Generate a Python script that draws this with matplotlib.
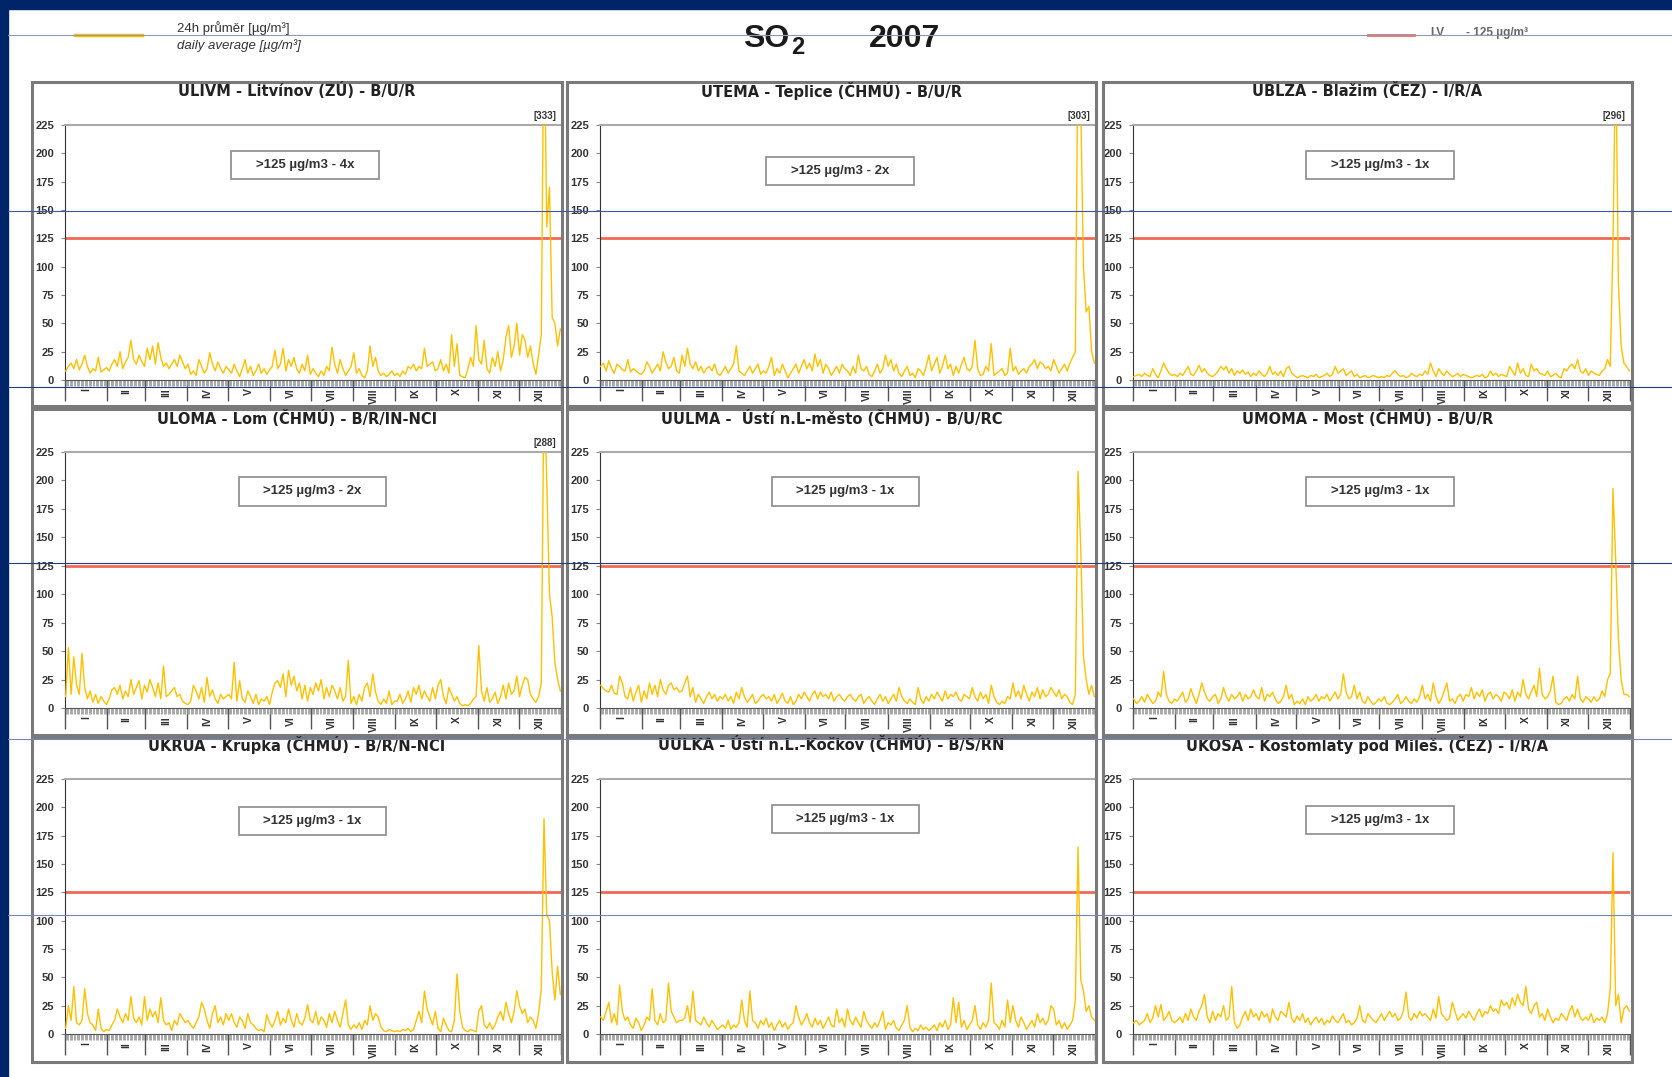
import matplotlib.pyplot as plt
from matplotlib.patches import Rectangle
from matplotlib.lines import Line2D
import numpy as np

plt.rcParams['font.family'] = ['Liberation Sans', 'DejaVu Sans']

# SO2 daily averages 2007 [ug/m3], one value per two days (I .. XII)
ulivm = [8, 12, 15, 10, 18, 9, 14, 22, 12, 6, 10, 8, 20, 7, 9, 11,
         8, 14, 18, 12, 25, 10, 16, 20, 35, 18, 14, 22, 16, 12,
         28, 18, 30, 14, 33, 20, 12, 15, 10, 14, 18, 12, 22, 16, 10,
         14, 5, 8, 4, 18, 12, 6, 10, 24, 14, 8, 16, 10, 6, 12,
         9, 6, 14, 8, 3, 10, 18, 6, 12, 4, 8, 14, 6, 10, 5, 9,
         12, 26, 10, 14, 28, 8, 18, 12, 20, 10, 6, 14, 8, 22, 5,
         10, 6, 3, 8, 4, 12, 8, 29, 14, 6, 18, 10, 4, 8, 12,
         24, 6, 10, 4, 2, 8, 30, 12, 20, 8, 4, 6, 3, 5, 8, 4,
         6, 3, 8, 5, 12, 10, 14, 8, 12, 10, 28, 12, 14, 16, 8,
         10, 18, 8, 14, 6, 40, 12, 32, 4, 3, 2, 10, 20, 12, 48,
         18, 14, 35, 10, 6, 20, 12, 25, 8, 18, 38, 48, 20, 30, 50,
         22, 40, 35, 20, 30, 15, 5, 22, 40, 333, 135, 170, 55, 50, 30, 45]

utema = [12, 15, 8, 17, 10, 6, 14, 12, 9, 8, 18, 7, 10, 8, 6, 5,
         8, 16, 12, 6, 10, 14, 8, 25, 16, 10, 12, 20, 8, 6,
         22, 12, 28, 14, 10, 16, 8, 12, 6, 10, 12, 8, 14, 6, 4,
         8, 12, 6, 10, 14, 30, 8, 6, 4, 8, 12, 6, 10, 14, 5,
         8, 6, 12, 20, 4, 10, 6, 14, 8, 2, 6, 10, 14, 6, 12, 18,
         10, 15, 8, 23, 12, 18, 6, 14, 10, 4, 8, 12, 6, 14, 10,
         8, 4, 12, 6, 22, 10, 8, 12, 5, 3, 8, 14, 6, 10, 22,
         12, 18, 8, 14, 6, 3, 8, 12, 4, 6, 2, 10, 8, 4, 12, 22,
         8, 14, 20, 6, 12, 22, 10, 14, 4, 12, 6, 14, 20, 10, 8,
         12, 35, 10, 4, 5, 12, 8, 32, 4, 6, 8, 10, 4, 6, 28,
         8, 12, 5, 8, 10, 6, 12, 14, 18, 10, 16, 14, 10, 12, 8,
         18, 12, 6, 10, 14, 8, 15, 20, 25, 303, 240, 100, 60, 65, 25, 15]

ublza = [3, 4, 5, 3, 6, 4, 3, 10, 5, 2, 8, 15, 10, 6, 4, 5,
         3, 6, 4, 8, 12, 5, 4, 8, 13, 7, 10, 6, 4, 3,
         5, 8, 12, 9, 12, 6, 10, 4, 8, 6, 9, 5, 7, 3, 6,
         4, 8, 5, 3, 6, 12, 5, 7, 4, 8, 3, 10, 12, 6, 4,
         2, 3, 4, 3, 2, 4, 3, 5, 2, 3, 4, 6, 3, 5, 12, 6,
         8, 10, 4, 6, 8, 3, 5, 2, 3, 4, 2, 3, 4, 3, 2,
         3, 2, 4, 3, 6, 8, 5, 3, 4, 2, 3, 6, 4, 3, 5,
         4, 8, 5, 15, 8, 3, 10, 6, 4, 8, 5, 3, 4, 6, 3, 5,
         4, 3, 2, 3, 4, 3, 5, 2, 3, 8, 4, 6, 3, 5, 4,
         3, 12, 8, 4, 15, 6, 10, 4, 3, 14, 8, 10, 6, 5, 4,
         8, 3, 4, 6, 3, 2, 10, 8, 12, 14, 10, 18, 8, 6, 10,
         4, 8, 6, 5, 4, 8, 10, 18, 12, 120, 296, 85, 30, 15, 12, 8]

uloma = [10, 53, 12, 45, 20, 12, 48, 18, 8, 15, 5, 12, 4, 10, 6, 3,
         8, 16, 18, 12, 20, 8, 15, 10, 25, 12, 18, 24, 8, 20,
         14, 25, 18, 10, 22, 8, 37, 10, 12, 15, 18, 10, 12, 6, 4,
         3, 6, 20, 15, 8, 18, 5, 27, 10, 16, 8, 4, 12, 8, 10,
         12, 8, 40, 6, 24, 8, 5, 15, 10, 4, 12, 3, 8, 6, 10, 3,
         14, 22, 24, 18, 30, 10, 33, 20, 28, 15, 22, 8, 20, 6, 18,
         12, 22, 15, 25, 8, 18, 10, 20, 15, 8, 18, 6, 10, 42, 4,
         10, 3, 12, 6, 18, 22, 10, 30, 14, 6, 3, 8, 4, 15, 3, 6,
         6, 12, 4, 8, 15, 5, 18, 12, 20, 8, 15, 10, 6, 18, 8,
         20, 25, 10, 4, 18, 12, 6, 10, 4, 2, 3, 2, 4, 8, 10,
         55, 15, 6, 18, 5, 8, 14, 4, 10, 20, 8, 22, 12, 15, 28,
         10, 20, 27, 25, 12, 8, 5, 10, 22, 288, 200, 100, 80, 40, 25, 15]

uulma = [20, 17, 15, 14, 20, 13, 12, 28, 22, 10, 8, 18, 6, 14, 20, 5,
         15, 8, 22, 12, 20, 10, 25, 16, 12, 20, 22, 16, 18, 14,
         15, 22, 28, 10, 18, 5, 12, 8, 4, 10, 14, 8, 12, 6, 10,
         8, 12, 6, 10, 4, 14, 8, 18, 10, 5, 8, 12, 4, 6, 10,
         12, 8, 10, 6, 12, 4, 8, 13, 6, 4, 10, 3, 6, 12, 8, 14,
         10, 6, 12, 15, 8, 14, 10, 12, 8, 14, 6, 10, 12, 8, 6,
         10, 12, 8, 6, 10, 12, 4, 8, 10, 6, 3, 8, 12, 6, 10,
         4, 8, 12, 6, 18, 10, 6, 4, 8, 5, 3, 18, 8, 4, 10, 6,
         12, 8, 14, 10, 6, 15, 8, 12, 10, 14, 8, 6, 12, 10, 8,
         18, 10, 6, 14, 8, 12, 4, 20, 10, 5, 3, 6, 4, 10, 8,
         22, 10, 15, 8, 20, 12, 6, 14, 10, 18, 8, 16, 10, 12, 18,
         14, 10, 16, 8, 12, 10, 5, 3, 12, 208, 140, 45, 25, 12, 20, 10]

umoma = [8, 4, 6, 10, 5, 12, 8, 4, 6, 14, 10, 32, 12, 6, 4, 8,
         6, 10, 14, 5, 8, 17, 10, 4, 12, 22, 14, 8, 6, 10,
         12, 4, 8, 18, 10, 6, 12, 8, 10, 14, 6, 12, 8, 10, 16,
         10, 8, 18, 6, 12, 10, 14, 8, 4, 6, 10, 20, 8, 12, 3,
         6, 4, 8, 3, 10, 6, 8, 12, 6, 10, 8, 12, 6, 10, 14, 8,
         12, 30, 14, 8, 10, 20, 8, 14, 6, 4, 10, 6, 3, 5, 8,
         6, 10, 4, 3, 5, 8, 12, 4, 6, 10, 6, 4, 8, 5, 10,
         20, 8, 12, 6, 22, 10, 4, 8, 15, 22, 6, 8, 4, 10, 12, 6,
         12, 10, 18, 8, 14, 10, 16, 6, 12, 14, 8, 12, 10, 6, 14,
         12, 8, 16, 6, 14, 10, 25, 12, 8, 14, 20, 10, 35, 12, 8,
         10, 15, 28, 5, 3, 4, 8, 10, 6, 12, 8, 28, 8, 5, 10,
         8, 5, 10, 6, 8, 15, 10, 25, 30, 193, 130, 60, 25, 12, 12, 10]

ukrua = [5, 25, 12, 42, 10, 8, 12, 40, 18, 10, 8, 3, 22, 5, 2, 4,
         3, 8, 12, 22, 15, 10, 18, 12, 33, 14, 10, 15, 8, 33,
         12, 22, 15, 20, 10, 32, 12, 8, 10, 3, 12, 8, 18, 14, 10,
         12, 8, 5, 10, 15, 28, 22, 12, 5, 18, 25, 10, 15, 8, 18,
         12, 18, 10, 6, 15, 12, 5, 18, 10, 8, 5, 3, 4, 2, 17, 10,
         6, 12, 20, 8, 14, 10, 22, 12, 6, 18, 10, 8, 14, 26, 12,
         10, 20, 8, 15, 12, 6, 18, 10, 20, 12, 6, 18, 30, 8, 4,
         8, 5, 10, 4, 12, 8, 25, 12, 18, 15, 6, 3, 2, 4, 3, 2,
         3, 2, 4, 3, 5, 2, 4, 12, 20, 10, 38, 22, 15, 8, 20,
         5, 2, 14, 8, 3, 2, 12, 53, 20, 6, 3, 2, 4, 3, 2,
         20, 25, 8, 5, 10, 4, 8, 15, 20, 12, 28, 18, 10, 20, 38,
         25, 18, 22, 10, 15, 12, 5, 18, 40, 190, 105, 100, 55, 30, 60, 35]

uulka = [15, 12, 20, 28, 10, 18, 8, 43, 20, 12, 15, 8, 5, 14, 10, 3,
         8, 15, 12, 40, 12, 8, 18, 10, 12, 45, 20, 15, 10, 12,
         12, 14, 25, 10, 38, 12, 10, 8, 15, 10, 6, 12, 8, 4, 6,
         8, 5, 12, 4, 8, 6, 10, 30, 12, 6, 38, 12, 10, 5, 12,
         8, 14, 6, 10, 3, 8, 12, 6, 10, 4, 8, 10, 25, 15, 8, 12,
         18, 10, 6, 14, 8, 12, 5, 10, 15, 8, 6, 22, 10, 14, 6,
         22, 12, 8, 15, 10, 6, 20, 12, 8, 5, 10, 6, 12, 20, 4,
         10, 8, 12, 5, 3, 8, 12, 25, 6, 2, 5, 3, 8, 4, 6, 3,
         5, 8, 3, 10, 6, 12, 4, 8, 32, 10, 28, 6, 12, 4, 8,
         12, 25, 8, 4, 10, 6, 12, 45, 10, 8, 4, 12, 6, 30, 10,
         25, 12, 6, 15, 10, 4, 8, 12, 6, 18, 10, 14, 8, 12, 25,
         22, 8, 12, 5, 10, 4, 8, 12, 30, 165, 48, 38, 20, 25, 15, 12]

ukosa = [10, 12, 8, 10, 12, 18, 10, 14, 25, 15, 26, 12, 15, 20, 12, 10,
         12, 15, 10, 18, 12, 22, 15, 12, 20, 25, 35, 15, 10, 20,
         12, 18, 15, 25, 12, 15, 42, 10, 5, 8, 15, 20, 12, 22, 15,
         18, 12, 20, 15, 18, 10, 22, 15, 12, 20, 18, 15, 28, 14, 10,
         16, 12, 18, 10, 14, 8, 12, 15, 10, 14, 8, 12, 10, 16, 12, 10,
         14, 18, 10, 12, 8, 10, 14, 25, 12, 10, 18, 15, 12, 10, 14,
         18, 12, 16, 20, 15, 18, 12, 14, 20, 37, 15, 12, 18, 14, 20,
         16, 18, 15, 12, 22, 14, 33, 18, 15, 12, 14, 28, 20, 12, 15, 18,
         14, 20, 16, 12, 18, 22, 15, 20, 18, 25, 20, 22, 18, 30, 25,
         28, 22, 32, 25, 35, 28, 25, 42, 22, 18, 25, 28, 15, 18, 12,
         22, 15, 10, 14, 12, 18, 15, 12, 20, 25, 15, 22, 14, 12, 15,
         12, 18, 10, 14, 12, 15, 10, 18, 40, 160, 25, 35, 10, 22, 25, 20]

series = [ulivm, utema, ublza, uloma, uulma, umoma, ukrua, uulka, ukosa]
stations = ["ULIVM - Litvínov (ZÚ) - B/U/R",
            "UTEMA - Teplice (ČHMÚ) - B/U/R",
            "UBLZA - Blažim (ČEZ) - I/R/A",
            "ULOMA - Lom (ČHMÚ) - B/R/IN-NCI",
            "UULMA -  Ústí n.L-město (ČHMÚ) - B/U/RC",
            "UMOMA - Most (ČHMÚ) - B/U/R",
            "UKRUA - Krupka (ČHMÚ) - B/R/N-NCI",
            "UULKA - Ústí n.L.-Kočkov (ČHMÚ) - B/S/RN",
            "UKOSA - Kostomlaty pod Mileš. (ČEZ) - I/R/A"]
exceed = [4, 2, 1, 2, 1, 1, 1, 1, 1]
months = ["I", "II", "III", "IV", "V", "VI", "VII", "VIII", "IX", "X", "XI", "XII"]
month_days = [31, 28, 31, 30, 31, 30, 31, 31, 30, 31, 30, 31]
limit = 125
ymax = 225

W, H = 1672, 1077
yellow = '#ffc000'
red = '#f06a55'

def fx(px):
    return px / W

def fy(py):
    return 1 - py / H

fig = plt.figure(figsize=(W / 100, H / 100), dpi=100)

# slide background: navy bars on top and left
fig.add_artist(Rectangle((0, fy(9)), 1, 9 / H, transform=fig.transFigure, color='#002468', zorder=0))
fig.add_artist(Rectangle((0, 0), fx(8), 1, transform=fig.transFigure, color='#002468', zorder=0))

# header
fig.text(fx(743), fy(47), "SO", fontsize=23, fontweight='bold', color='#1a1a1a', va='baseline')
fig.text(fx(791), fy(54), "2", fontsize=17, fontweight='bold', color='#1a1a1a', va='baseline')
fig.text(fx(869), fy(47), "2007", fontsize=23, fontweight='bold', color='#1a1a1a', va='baseline')

fig.add_artist(Line2D([fx(75), fx(142)], [fy(35), fy(35)], color=yellow, lw=2.5))
fig.text(fx(177), fy(28), "24h průměr [µg/m³]", fontsize=9.5, color='#333333', va='center')
fig.text(fx(177), fy(46), "daily average [µg/m³]", fontsize=9.5, color='#333333', va='center', style='italic')

fig.add_artist(Line2D([fx(1368), fx(1414)], [fy(35), fy(35)], color=red, lw=2))
fig.text(fx(1430), fy(33), "LV", fontsize=8.5, fontweight='bold', color='#666666', va='center')
fig.text(fx(1466), fy(33), "- 125 µg/m³", fontsize=8.5, fontweight='bold', color='#666666', va='center')

col_axis = [(65, 561), (600, 1095), (1133, 1630)]
row_axis = [(125, 380), (452, 708), (779, 1034)]
col_frame = [(32, 562), (567, 1096), (1103, 1632)]
row_frame = [(82, 406), (409, 735), (737, 1062)]
title_y = [91, 418, 745]
box_pos = [(0.484, 0.845), (0.485, 0.82), (0.497, 0.845),
           (0.499, 0.846), (0.496, 0.846), (0.497, 0.846),
           (0.499, 0.837), (0.496, 0.845), (0.497, 0.84)]

bounds = np.concatenate([[0.5], 0.5 + np.cumsum(month_days)])
centers = bounds[:-1] + np.array(month_days) / 2

for i, vals in enumerate(series):
    r, c = divmod(i, 3)
    x0, x1 = col_frame[c]
    y0, y1 = row_frame[r]
    fig.add_artist(Rectangle((fx(x0), fy(y1)), (x1 - x0) / W, (y1 - y0) / H,
                             transform=fig.transFigure, fill=False, ec='#7a7a7a', lw=2.2, zorder=1))
    fig.text(fx((x0 + x1) / 2), fy(title_y[r]), stations[i], fontsize=10.5, fontweight='bold',
             family='DejaVu Sans', color='#222222', ha='center', va='center')

    l, rr = col_axis[c]
    t, b = row_axis[r]
    ax = fig.add_axes([fx(l), fy(b), (rr - l) / W, (b - t) / H])
    ax.patch.set_alpha(0)

    days = np.linspace(1, 365, len(vals))
    ax.plot(days, vals, color=yellow, lw=1.0, zorder=3)
    ax.axhline(limit, color=red, lw=2, zorder=2)

    ax.set_xlim(0.5, 365.5)
    ax.set_ylim(0, ymax)
    ax.set_yticks(range(0, ymax + 1, 25))
    ax.set_xticks(bounds)
    ax.set_xticklabels([])
    ax.set_xticks(np.arange(1, 366), minor=True)
    ax.tick_params(axis='x', which='major', length=15, width=1, color='#555555')
    ax.tick_params(axis='x', which='minor', length=4, width=0.6, color='#9a9a9a')
    ax.tick_params(axis='y', length=3, width=0.8, color='#888888', labelsize=8,
                   labelcolor='#333333', pad=5)
    for lab in ax.get_yticklabels():
        lab.set_fontweight('bold')

    ax.spines['right'].set_visible(False)
    ax.spines['left'].set_color('#333333')
    ax.spines['bottom'].set_color('#555555')
    ax.spines['top'].set_color('#aaaaaa')
    ax.spines['top'].set_linewidth(1.5)

    for m, xc in zip(months, centers):
        ax.text(xc, -0.032, m, transform=ax.get_xaxis_transform(), rotation=90,
                ha='center', va='top', fontsize=7.5, fontweight='bold', color='#333333')

    peak = max(vals)
    if peak > ymax:
        ax.text(0.99, 1.015, f"[{peak}]", transform=ax.transAxes, ha='right', va='bottom',
                fontsize=7, fontweight='bold', color='#333333')

    bx, by = box_pos[i]
    ax.add_patch(Rectangle((bx - 0.149, by - 0.055), 0.298, 0.11, transform=ax.transAxes,
                           fc='white', ec='#8a8a8a', lw=1.2, zorder=4))
    ax.text(bx, by, f">{limit} µg/m3 - {exceed[i]}x", transform=ax.transAxes, ha='center',
            va='center', fontsize=9.5, fontweight='bold', color='#333333', zorder=5)

# thin guide lines across the slide
for yl, col in zip([35, 211, 387, 563, 739, 915],
                   ['#8c9ab8', '#3a58a8', '#1e3c8c', '#1e3c8c', '#7088c0', '#7088c0']):
    fig.add_artist(Line2D([fx(8), 1], [fy(yl), fy(yl)], color=col, lw=0.8, zorder=10))

fig.savefig('out.png', dpi=100)
